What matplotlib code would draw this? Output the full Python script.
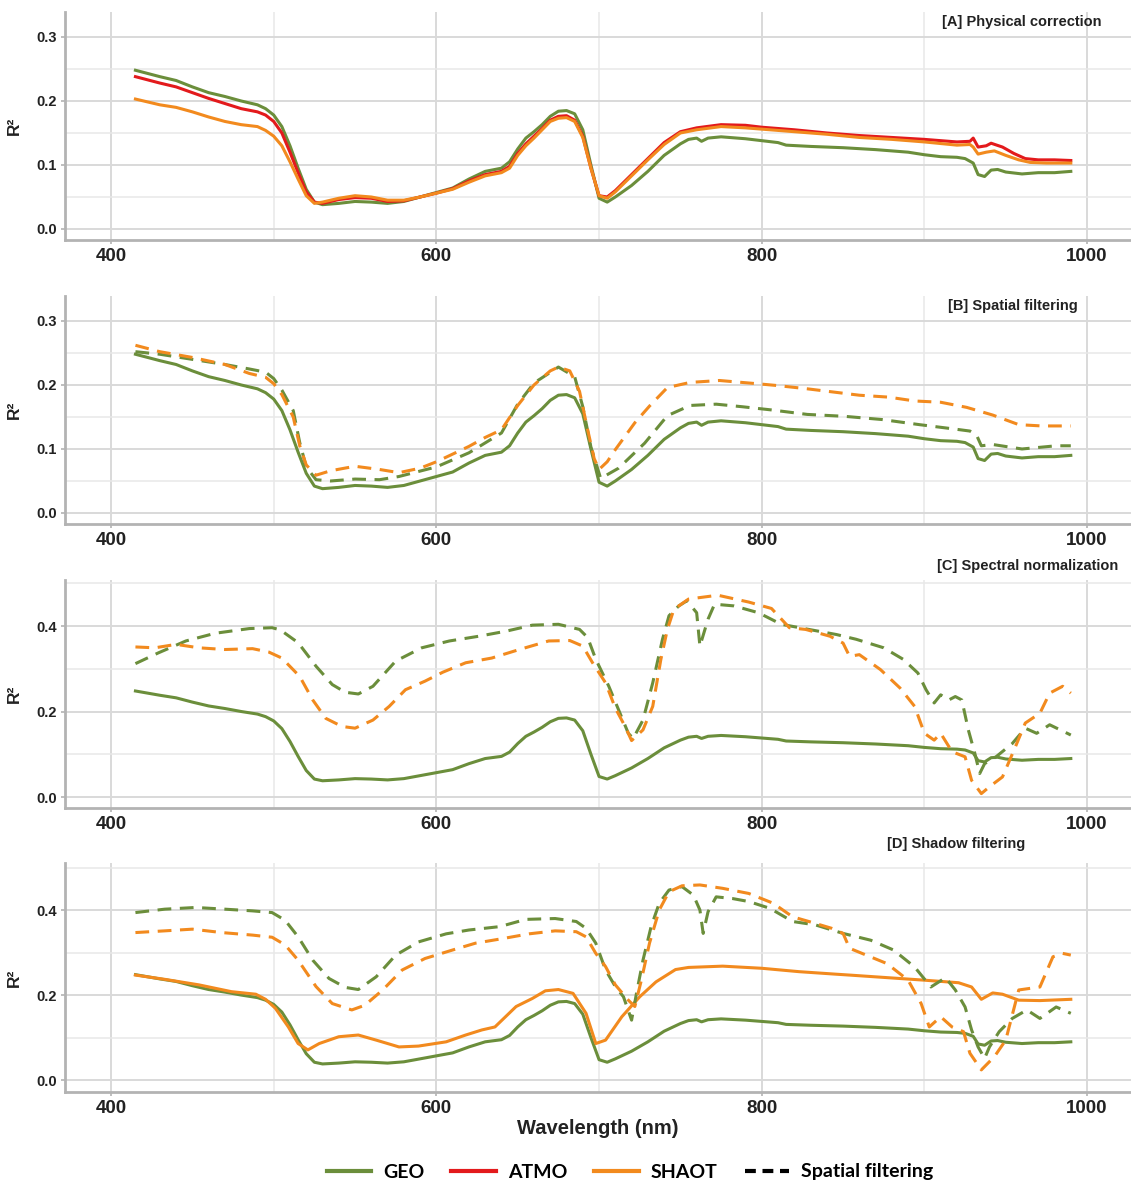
import matplotlib
matplotlib.use("Agg")
import matplotlib.pyplot as plt
from matplotlib.lines import Line2D
from matplotlib.ticker import MultipleLocator

plt.rcParams["font.family"] = ["Liberation Sans", "DejaVu Sans"]

# ---- data ----
# GEO, solid, same curve in every panel
geo_wl = [415, 430, 440, 450, 460, 470, 480, 490, 495, 500, 505, 510, 515, 520, 525, 530,
          540, 550, 560, 570, 580, 590, 600, 610, 620, 630, 640, 645, 650, 655, 660, 665,
          670, 675, 680, 685, 690, 695, 700, 705, 710, 720, 730, 740, 750, 755, 760, 763,
          767, 775, 790, 800, 810, 815, 830, 850, 870, 890, 900, 910, 920, 925, 930, 933,
          937, 941, 945, 950, 960, 970, 980, 990]
geo_r2 = [0.248, 0.238, 0.232, 0.222, 0.213, 0.207, 0.200, 0.194, 0.188, 0.178, 0.160, 0.130,
          0.095, 0.062, 0.042, 0.038, 0.040, 0.043, 0.042, 0.040, 0.043, 0.050, 0.057, 0.064,
          0.078, 0.090, 0.095, 0.105, 0.125, 0.142, 0.152, 0.163, 0.176, 0.184, 0.185, 0.180,
          0.155, 0.100, 0.048, 0.042, 0.050, 0.068, 0.090, 0.115, 0.133, 0.140, 0.142, 0.137,
          0.142, 0.144, 0.141, 0.138, 0.135, 0.131, 0.129, 0.127, 0.124, 0.120, 0.116, 0.113,
          0.112, 0.110, 0.103, 0.085, 0.082, 0.092, 0.093, 0.089, 0.086, 0.088, 0.088, 0.090]

# [A] ATMO and SHAOT
atmo_wl = [415, 430, 440, 450, 460, 470, 480, 490, 495, 500, 505, 510, 515, 520, 525, 530,
           540, 550, 560, 570, 580, 590, 600, 610, 620, 630, 640, 645, 650, 655, 660, 665,
           670, 675, 680, 685, 690, 695, 700, 705, 710, 720, 730, 740, 750, 760, 775, 790,
           800, 820, 840, 860, 880, 900, 920, 928, 930, 933, 938, 941, 948, 955, 962, 970,
           980, 990]
atmo_r2 = [0.238, 0.228, 0.222, 0.213, 0.204, 0.196, 0.188, 0.183, 0.178, 0.168, 0.150, 0.120,
           0.088, 0.058, 0.042, 0.040, 0.046, 0.049, 0.048, 0.043, 0.044, 0.050, 0.056, 0.063,
           0.075, 0.085, 0.090, 0.098, 0.118, 0.133, 0.145, 0.157, 0.170, 0.176, 0.177, 0.170,
           0.145, 0.095, 0.052, 0.050, 0.060, 0.085, 0.110, 0.135, 0.152, 0.158, 0.163, 0.162,
           0.159, 0.155, 0.150, 0.146, 0.143, 0.140, 0.136, 0.137, 0.142, 0.128, 0.130, 0.134,
           0.128, 0.118, 0.110, 0.108, 0.108, 0.107]
shaot_wl = [415, 420, 430, 440, 450, 460, 470, 480, 490, 495, 500, 505, 510, 515, 520, 525,
            530, 540, 550, 560, 570, 580, 590, 600, 610, 620, 630, 640, 645, 650, 655, 660,
            665, 670, 675, 680, 685, 690, 695, 700, 705, 710, 720, 730, 740, 750, 760, 775,
            790, 800, 820, 840, 860, 880, 900, 920, 928, 930, 933, 938, 943, 950, 958, 965,
            975, 990]
shaot_r2 = [0.203, 0.200, 0.194, 0.190, 0.183, 0.175, 0.168, 0.163, 0.160, 0.154, 0.145, 0.130,
            0.105, 0.078, 0.052, 0.040, 0.042, 0.048, 0.052, 0.050, 0.045, 0.045, 0.050, 0.056,
            0.062, 0.073, 0.083, 0.088, 0.095, 0.115, 0.130, 0.142, 0.155, 0.168, 0.173, 0.174,
            0.168, 0.143, 0.095, 0.052, 0.048, 0.058, 0.083, 0.108, 0.132, 0.150, 0.155, 0.160,
            0.158, 0.156, 0.152, 0.148, 0.143, 0.140, 0.136, 0.131, 0.132, 0.128, 0.117, 0.120,
            0.122, 0.115, 0.108, 0.104, 0.103, 0.103]

# [B] spatial filtering (dashed)
geo_sp_wl = [415, 430, 450, 470, 485, 495, 500, 505, 512, 516, 520, 526, 535, 550, 565, 577,
             600, 620, 640, 650, 660, 675, 685, 690, 695, 701, 712, 728, 742, 756, 772, 788,
             806, 828, 851, 874, 897, 919, 928, 932, 935, 942, 960, 981, 990]
geo_sp_r2 = [0.252, 0.248, 0.240, 0.232, 0.225, 0.220, 0.210, 0.192, 0.160, 0.110, 0.072, 0.052,
             0.050, 0.053, 0.052, 0.057, 0.072, 0.094, 0.125, 0.170, 0.203, 0.228, 0.213, 0.166,
             0.103, 0.054, 0.070, 0.109, 0.152, 0.168, 0.170, 0.166, 0.161, 0.154, 0.151, 0.146,
             0.138, 0.131, 0.128, 0.122, 0.105, 0.107, 0.100, 0.105, 0.105]
shaot_sp_wl = [415, 430, 450, 470, 485, 495, 500, 505, 512, 516, 520, 526, 535, 550, 565, 577,
               590, 600, 620, 630, 640, 650, 660, 670, 675, 682, 688, 693, 697, 700, 705, 710,
               722, 731, 742, 756, 774, 797, 810, 828, 860, 878, 894, 910, 926, 942, 958, 972,
               990]
shaot_sp_r2 = [0.262, 0.252, 0.243, 0.232, 0.218, 0.212, 0.202, 0.185, 0.150, 0.105, 0.075, 0.059,
               0.066, 0.073, 0.068, 0.063, 0.070, 0.080, 0.104, 0.118, 0.130, 0.168, 0.200, 0.222,
               0.228, 0.222, 0.190, 0.130, 0.085, 0.068, 0.080, 0.099, 0.141, 0.167, 0.196, 0.204,
               0.207, 0.202, 0.199, 0.194, 0.184, 0.181, 0.175, 0.173, 0.165, 0.153, 0.138, 0.136,
               0.136]

# [C] spectral normalization (dashed)
geo_sn_wl = [415, 429, 446, 464, 485, 499, 504, 515, 526, 536, 544, 552, 561, 575, 591, 608,
             626, 643, 659, 675, 688, 693, 698, 706, 712, 718, 721, 727, 733, 739, 743, 749,
             754, 760, 762, 767, 771, 783, 798, 812, 829, 846, 858, 875, 887, 896, 901, 906,
             910, 915, 919, 923, 927, 931, 934, 937, 944, 954, 962, 969, 977, 990]
geo_sn_r2 = [0.312, 0.337, 0.365, 0.383, 0.394, 0.396, 0.391, 0.361, 0.306, 0.263, 0.245, 0.241,
             0.259, 0.318, 0.349, 0.365, 0.376, 0.388, 0.402, 0.404, 0.392, 0.373, 0.322, 0.259,
             0.204, 0.149, 0.137, 0.180, 0.267, 0.369, 0.424, 0.447, 0.459, 0.431, 0.353, 0.416,
             0.451, 0.447, 0.431, 0.404, 0.392, 0.380, 0.369, 0.349, 0.322, 0.290, 0.251, 0.220,
             0.239, 0.227, 0.235, 0.227, 0.157, 0.102, 0.055, 0.078, 0.094, 0.125, 0.161, 0.149,
             0.169, 0.145]
shaot_sn_wl = [415, 427, 440, 454, 470, 487, 497, 505, 516, 524, 532, 542, 550, 561, 571, 581,
               593, 604, 618, 634, 651, 669, 682, 690, 696, 704, 710, 716, 720, 727, 733, 738,
               742, 746, 755, 773, 792, 806, 817, 827, 842, 850, 854, 860, 873, 885, 894, 900,
               906, 910, 917, 925, 929, 935, 940, 948, 956, 962, 971, 977, 985, 990]
shaot_sn_r2 = [0.351, 0.349, 0.357, 0.349, 0.345, 0.347, 0.339, 0.325, 0.282, 0.227, 0.184, 0.165,
               0.161, 0.180, 0.212, 0.251, 0.271, 0.292, 0.314, 0.325, 0.345, 0.365, 0.366, 0.353,
               0.314, 0.267, 0.208, 0.165, 0.132, 0.157, 0.212, 0.322, 0.392, 0.439, 0.463, 0.472,
               0.456, 0.441, 0.396, 0.392, 0.376, 0.360, 0.329, 0.333, 0.298, 0.255, 0.212, 0.149,
               0.133, 0.149, 0.106, 0.094, 0.039, 0.008, 0.024, 0.047, 0.118, 0.173, 0.196, 0.243,
               0.259, 0.243]

# [D] shadow filtering: SHAOT solid + dashed
shaot_sh_wl = [415, 433, 454, 474, 489, 495, 501, 509, 515, 521, 528, 540, 552, 563, 577, 589,
               606, 618, 628, 636, 649, 659, 667, 675, 684, 692, 698, 704, 714, 725, 735, 747,
               755, 776, 800, 823, 846, 854, 900, 921, 929, 935, 942, 948, 958, 971, 990]
shaot_sh_r2 = [0.247, 0.237, 0.224, 0.208, 0.202, 0.190, 0.169, 0.125, 0.086, 0.071, 0.086, 0.102,
               0.106, 0.094, 0.078, 0.080, 0.090, 0.106, 0.118, 0.125, 0.173, 0.192, 0.210, 0.213,
               0.204, 0.157, 0.086, 0.094, 0.149, 0.196, 0.231, 0.260, 0.265, 0.268, 0.263, 0.255,
               0.249, 0.247, 0.235, 0.229, 0.219, 0.190, 0.205, 0.202, 0.188, 0.187, 0.190]
geo_shd_wl = [415, 433, 452, 470, 487, 499, 507, 515, 524, 534, 544, 552, 563, 575, 589, 606,
              620, 639, 655, 673, 686, 692, 698, 704, 710, 715, 720, 723, 727, 732, 737, 743,
              751, 758, 762, 764, 767, 772, 782, 792, 805, 819, 833, 850, 867, 881, 894, 904,
              913, 919, 925, 929, 933, 937, 940, 946, 954, 963, 971, 981, 990]
geo_shd_r2 = [0.394, 0.402, 0.406, 0.402, 0.398, 0.394, 0.376, 0.337, 0.282, 0.239, 0.218, 0.213,
              0.243, 0.294, 0.325, 0.344, 0.353, 0.361, 0.378, 0.380, 0.373, 0.357, 0.322, 0.259,
              0.220, 0.196, 0.141, 0.204, 0.282, 0.361, 0.416, 0.447, 0.455, 0.435, 0.400, 0.345,
              0.396, 0.431, 0.427, 0.420, 0.404, 0.373, 0.365, 0.345, 0.329, 0.306, 0.266, 0.219,
              0.241, 0.212, 0.172, 0.118, 0.078, 0.051, 0.078, 0.114, 0.145, 0.165, 0.145, 0.172,
              0.157]
shaot_shd_wl = [415, 433, 450, 468, 487, 499, 507, 515, 526, 536, 548, 556, 567, 579, 593, 610,
                624, 641, 657, 673, 686, 692, 698, 704, 710, 718, 722, 726, 731, 737, 743, 751,
                762, 776, 792, 807, 819, 829, 843, 850, 854, 877, 890, 898, 903, 910, 917, 924,
                928, 935, 943, 950, 958, 971, 979, 985, 990]
shaot_shd_r2 = [0.347, 0.351, 0.355, 0.347, 0.341, 0.336, 0.318, 0.282, 0.220, 0.180, 0.165, 0.176,
                0.212, 0.259, 0.286, 0.306, 0.322, 0.333, 0.344, 0.351, 0.349, 0.337, 0.298, 0.267,
                0.224, 0.188, 0.173, 0.235, 0.322, 0.400, 0.443, 0.457, 0.459, 0.451, 0.439, 0.416,
                0.384, 0.373, 0.357, 0.345, 0.310, 0.274, 0.235, 0.180, 0.125, 0.149, 0.125, 0.114,
                0.063, 0.024, 0.055, 0.094, 0.212, 0.219, 0.290, 0.298, 0.294]

panel_titles = ["[A] Physical correction", "[B] Spatial filtering",
                "[C] Spectral normalization", "[D] Shadow filtering"]
legend_labels = ["GEO", "ATMO", "SHAOT", "Spatial filtering"]

# ---- style ----
GREEN = "#6b8e3b"
RED = "#e31a1c"
ORANGE = "#f28a1e"
LW = 2.2
DASH = (4.5, 2.8)

W, H = 1131, 1184
fig = plt.figure(figsize=(W / 100, H / 100), dpi=100)

# axes boxes in pixels: (top, bottom)
boxes = [(12, 240), (296, 524), (580, 808), (863, 1092)]
ylims = [(-0.0172, 0.339), (-0.0172, 0.339), (-0.0257, 0.5076), (-0.028, 0.5106)]
left_px = 65
title_pos = [(1101, 22), (1078, 306), (1118, 566), (1025, 844)]

axes = []
for i, (top, bot) in enumerate(boxes):
    ax = fig.add_axes([left_px / W, 1 - bot / H, 1 - left_px / W, (bot - top) / H])
    ax.set_xlim(371.7, 1027)
    ax.set_ylim(*ylims[i])
    ax.xaxis.set_major_locator(MultipleLocator(200))
    ax.xaxis.set_minor_locator(MultipleLocator(100))
    if i < 2:
        ax.yaxis.set_major_locator(MultipleLocator(0.1))
        ax.yaxis.set_minor_locator(MultipleLocator(0.05))
    else:
        ax.yaxis.set_major_locator(MultipleLocator(0.2))
        ax.yaxis.set_minor_locator(MultipleLocator(0.1))
    ax.yaxis.set_major_formatter(matplotlib.ticker.FormatStrFormatter("%.1f"))
    ax.grid(which="major", color="#d9d9d9", lw=1.4)
    ax.grid(which="minor", color="#e8e8e8", lw=1.1)
    ax.set_axisbelow(True)
    for s in ["top", "right"]:
        ax.spines[s].set_visible(False)
    for s in ["left", "bottom"]:
        ax.spines[s].set_color("#b3b3b3")
        ax.spines[s].set_linewidth(2.0)
    ax.tick_params(which="major", length=3, width=1.2, color="#b3b3b3", pad=3)
    ax.tick_params(which="minor", length=0)
    ax.tick_params(axis="x", labelsize=13.5)
    ax.tick_params(axis="y", labelsize=10.5)
    for lab in ax.get_xticklabels() + ax.get_yticklabels():
        lab.set_fontweight("bold")
        lab.set_color("#222222")
    ax.set_ylabel("R²", fontsize=12.5, fontweight="bold", color="#222222")
    ax.yaxis.set_label_coords(-0.040, 0.5)
    tx, ty = title_pos[i]
    fig.text(tx / W, 1 - ty / H, panel_titles[i], ha="right", va="center",
             fontsize=10.5, fontweight="bold", color="#222222")
    axes.append(ax)

axA, axB, axC, axD = axes

# [A]
axA.plot(geo_wl, geo_r2, color=GREEN, lw=LW)
axA.plot(atmo_wl, atmo_r2, color=RED, lw=LW)
axA.plot(shaot_wl, shaot_r2, color=ORANGE, lw=LW)

# [B]
axB.plot(geo_wl, geo_r2, color=GREEN, lw=LW)
axB.plot(geo_sp_wl, geo_sp_r2, color=GREEN, lw=LW, dashes=DASH)
axB.plot(shaot_sp_wl, shaot_sp_r2, color=ORANGE, lw=LW, dashes=DASH)

# [C]
axC.plot(geo_wl, geo_r2, color=GREEN, lw=LW)
axC.plot(geo_sn_wl, geo_sn_r2, color=GREEN, lw=LW, dashes=DASH)
axC.plot(shaot_sn_wl, shaot_sn_r2, color=ORANGE, lw=LW, dashes=DASH)

# [D]
axD.plot(geo_wl, geo_r2, color=GREEN, lw=LW)
axD.plot(shaot_sh_wl, shaot_sh_r2, color=ORANGE, lw=LW)
axD.plot(geo_shd_wl, geo_shd_r2, color=GREEN, lw=LW, dashes=DASH)
axD.plot(shaot_shd_wl, shaot_shd_r2, color=ORANGE, lw=LW, dashes=DASH)

fig.text(598 / W, 1 - 1128 / H, "Wavelength (nm)", ha="center", va="center",
         fontsize=14.5, fontweight="bold", color="#222222")

handles = [Line2D([], [], color=GREEN, lw=3),
           Line2D([], [], color=RED, lw=3),
           Line2D([], [], color=ORANGE, lw=3),
           Line2D([], [], color="black", lw=3, dashes=(2.6, 1.6))]
fig.legend(handles, legend_labels, loc="center", bbox_to_anchor=(0.557, 1 - 1172 / H),
           ncol=4, frameon=False, handlelength=2.3, handletextpad=0.6, columnspacing=1.4,
           prop={"family": "Lato", "weight": "bold", "size": 14})

fig.savefig("out.png", dpi=100)
